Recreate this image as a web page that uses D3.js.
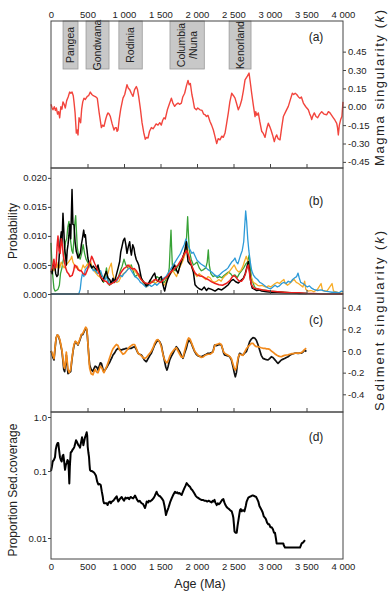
<!DOCTYPE html>
<html>
<head>
<meta charset="utf-8">
<script src="https://cdnjs.cloudflare.com/ajax/libs/d3/7.8.5/d3.min.js"></script>
<style>
    body { margin: 0; background: #fff; }
    svg { font-family: "Liberation Sans", Arial, sans-serif; }
    .axis text { font-size: 9.5px; fill: #222; }
    .axis path, .axis line { stroke: #444; }
    .title { font-size: 12px; fill: #222; }
    .panel-label { font-size: 12px; fill: #222; }
    .super-label { font-size: 10.5px; fill: #222; }
</style>
</head>
<body>
<div id="chart"></div>
<script>

/*
 *  Data (ages in Ma)
 */

var ageTicks = [0, 500, 1000, 1500, 2000, 2500, 3000, 3500, 4000];

var superNames = [["Pangea"], ["Gondwana"], ["Rodinia"], ["Columbia", "/Nuna"], ["Kenorland"]];
var superStart = [165, 480, 930, 1630, 2440];
var superEnd = [370, 795, 1250, 2100, 2740];

var magmaTicks = [-0.45, -0.30, -0.15, 0.00, 0.15, 0.30, 0.45];
var probTicks = [0, 0.005, 0.010, 0.015, 0.020];
var sedTicks = [-0.4, -0.2, 0.0, 0.2, 0.4];
var coverTicks = [0.01, 0.1, 1];

// (a) magma singularity
var magmaK = [[0,0.02],[15,-0.01],[27,-0.025],[45,0.0],[60,-0.03],[73,-0.01],[90,-0.06],[105,-0.04],[119,-0.09],[135,0.0],[150,-0.02],[164,0.04],[180,0.02],[196,-0.01],[215,0.05],[235,0.08],[256,0.12],[272,0.11],[288,0.12],[305,0.09],[315,0.04],[330,-0.05],[347,-0.215],[358,-0.19],[370,-0.23],[384,-0.09],[395,-0.11],[406,-0.13],[420,-0.02],[435,0.04],[452,0.07],[470,0.06],[497,0.085],[515,0.09],[538,0.12],[560,0.10],[580,0.09],[599,0.085],[615,0.08],[634,0.07],[660,-0.05],[690,-0.17],[706,-0.15],[726,-0.16],[750,-0.10],[765,-0.07],[781,-0.05],[797,-0.06],[813,-0.08],[838,-0.14],[863,-0.19],[880,-0.17],[895,-0.17],[905,-0.2],[918,-0.19],[935,-0.10],[955,-0.02],[986,0.07],[1010,0.10],[1041,0.18],[1060,0.15],[1078,0.14],[1100,0.11],[1123,0.085],[1145,0.14],[1169,0.165],[1185,0.14],[1201,0.085],[1225,-0.02],[1247,-0.13],[1270,-0.21],[1292,-0.265],[1310,-0.25],[1329,-0.255],[1350,-0.20],[1375,-0.17],[1398,-0.18],[1420,-0.16],[1440,-0.14],[1466,-0.15],[1490,-0.13],[1511,-0.15],[1530,-0.11],[1548,-0.09],[1565,-0.10],[1594,-0.025],[1620,0.02],[1649,0.07],[1670,0.03],[1694,0.003],[1715,0.02],[1740,0.03],[1760,0.02],[1786,0.03],[1805,0.08],[1831,0.11],[1855,0.17],[1877,0.215],[1892,0.18],[1909,0.19],[1930,0.10],[1946,0.055],[1965,-0.01],[1991,-0.025],[2010,-0.01],[2041,-0.025],[2070,-0.03],[2090,-0.06],[2110,-0.065],[2130,-0.08],[2150,-0.07],[2178,-0.12],[2200,-0.15],[2224,-0.19],[2245,-0.24],[2270,-0.30],[2290,-0.26],[2315,-0.27],[2340,-0.24],[2360,-0.25],[2384,-0.215],[2405,-0.14],[2429,-0.05],[2450,0.04],[2475,0.11],[2500,0.09],[2521,0.07],[2545,0.02],[2566,-0.025],[2590,0.01],[2612,0.055],[2635,0.13],[2658,0.22],[2690,0.25],[2713,0.275],[2730,0.2],[2749,0.11],[2770,0.02],[2795,-0.08],[2805,-0.04],[2820,-0.07],[2840,-0.05],[2860,-0.12],[2886,-0.20],[2910,-0.22],[2932,-0.25],[2955,-0.18],[2977,-0.135],[2995,-0.16],[3014,-0.19],[3035,-0.23],[3059,-0.285],[3075,-0.25],[3092,-0.23],[3110,-0.26],[3137,-0.27],[3160,-0.17],[3183,-0.08],[3215,-0.04],[3251,0.003],[3280,0.06],[3306,0.11],[3325,0.10],[3345,0.11],[3366,0.10],[3390,0.08],[3411,0.07],[3430,0.08],[3457,0.03],[3490,0.0],[3525,-0.025],[3545,-0.06],[3560,-0.08],[3571,-0.105],[3590,-0.07],[3607,-0.05],[3630,-0.08],[3653,-0.09],[3680,-0.06],[3708,-0.04],[3740,-0.06],[3777,-0.065],[3800,-0.04],[3822,-0.05],[3845,-0.07],[3868,-0.09],[3890,-0.11],[3914,-0.135],[3925,-0.17],[3936,-0.23],[3950,-0.15],[3968,-0.105],[3985,-0.08],[4000,0.04]];

// (b) probability series
var probGreen = [[0,0.0088],[10,0.006],[25,0.003],[40,0.001],[55,0.0005],[75,0.0006],[96,0.0008],[115,0.0015],[130,0.0035],[150,0.0045],[170,0.006],[185,0.0075],[200,0.009],[215,0.0095],[230,0.0115],[246,0.0125],[258,0.0105],[270,0.009],[285,0.0075],[300,0.007],[315,0.0095],[325,0.012],[338,0.0135],[350,0.0105],[360,0.008],[380,0.0065],[400,0.006],[420,0.007],[440,0.0085],[460,0.007],[480,0.006],[500,0.0055],[520,0.005],[540,0.0048],[560,0.0045],[580,0.0042],[600,0.004],[620,0.0038],[640,0.0048],[660,0.0042],[680,0.0035],[700,0.0025],[720,0.002],[740,0.003],[760,0.0045],[780,0.0025],[800,0.0015],[825,0.0018],[850,0.002],[875,0.0022],[900,0.0025],[925,0.003],[950,0.004],[975,0.0048],[1000,0.006],[1025,0.005],[1050,0.0045],[1075,0.0048],[1100,0.005],[1125,0.004],[1150,0.003],[1175,0.0032],[1200,0.0035],[1225,0.003],[1250,0.0025],[1275,0.002],[1300,0.0015],[1325,0.0018],[1350,0.002],[1375,0.0022],[1400,0.002],[1425,0.0025],[1450,0.003],[1475,0.0028],[1500,0.0025],[1525,0.0022],[1550,0.002],[1575,0.0025],[1600,0.003],[1620,0.0045],[1632,0.008],[1644,0.011],[1652,0.008],[1662,0.005],[1680,0.0042],[1700,0.004],[1725,0.0045],[1750,0.005],[1775,0.0055],[1800,0.006],[1825,0.007],[1850,0.008],[1862,0.011],[1872,0.0133],[1882,0.0105],[1895,0.0075],[1920,0.006],[1950,0.005],[1975,0.0052],[2000,0.0055],[2030,0.0045],[2060,0.004],[2090,0.0042],[2120,0.0045],[2140,0.0055],[2155,0.0076],[2168,0.005],[2190,0.0035],[2220,0.003],[2250,0.0032],[2280,0.0028],[2310,0.003],[2340,0.0028],[2370,0.0032],[2400,0.0035],[2430,0.0038],[2460,0.0035],[2490,0.003],[2520,0.0033],[2550,0.0028],[2580,0.0035],[2610,0.004],[2640,0.0045],[2670,0.0052],[2690,0.0055],[2715,0.0067],[2730,0.0045],[2750,0.0025],[2780,0.0015],[2800,0.001],[2850,0.0008],[2900,0.0007],[2950,0.0006],[3000,0.0005],[3100,0.0004],[3200,0.0003],[3300,0.0002],[3400,0.0001],[3500,0.0001]];

var probOrange = [[0,0.0035],[20,0.0045],[40,0.004],[60,0.005],[80,0.0045],[100,0.0055],[120,0.0045],[140,0.0055],[160,0.005],[180,0.0045],[200,0.0048],[220,0.0052],[240,0.0055],[256,0.0058],[270,0.006],[285,0.0065],[300,0.0055],[320,0.005],[340,0.0045],[360,0.0048],[380,0.0042],[400,0.004],[420,0.0042],[440,0.005],[460,0.0045],[480,0.0048],[500,0.0052],[520,0.0045],[543,0.0056],[560,0.0048],[580,0.0042],[600,0.0038],[620,0.0035],[640,0.0032],[660,0.003],[680,0.0028],[700,0.0025],[720,0.0022],[740,0.0025],[760,0.003],[780,0.0035],[800,0.0045],[826,0.0053],[845,0.0035],[870,0.0025],[900,0.002],[930,0.0022],[960,0.003],[990,0.0035],[1020,0.0038],[1050,0.0042],[1078,0.005],[1100,0.0045],[1130,0.0042],[1160,0.0038],[1190,0.0032],[1220,0.0027],[1250,0.0022],[1280,0.0015],[1310,0.0012],[1340,0.0015],[1370,0.002],[1400,0.0022],[1430,0.0018],[1460,0.0022],[1490,0.0025],[1520,0.002],[1550,0.0015],[1580,0.0022],[1610,0.003],[1640,0.0035],[1670,0.004],[1694,0.0035],[1720,0.003],[1750,0.0042],[1780,0.005],[1810,0.0058],[1840,0.007],[1865,0.0082],[1885,0.0065],[1910,0.0052],[1940,0.0042],[1970,0.0035],[2000,0.003],[2030,0.0035],[2060,0.0032],[2090,0.0028],[2120,0.0025],[2150,0.003],[2180,0.0028],[2210,0.0022],[2240,0.002],[2270,0.0022],[2300,0.0025],[2330,0.0022],[2360,0.0028],[2390,0.0032],[2420,0.0035],[2450,0.004],[2480,0.0045],[2510,0.005],[2540,0.0042],[2570,0.0038],[2600,0.004],[2630,0.0048],[2650,0.0056],[2675,0.0065],[2700,0.0055],[2720,0.004],[2745,0.0028],[2770,0.002],[2800,0.0018],[2830,0.0015],[2860,0.0014],[2890,0.0015],[2920,0.0013],[2950,0.0012],[2980,0.0014],[3010,0.0012],[3040,0.0015],[3070,0.0018],[3100,0.002],[3130,0.0018],[3160,0.0022],[3190,0.0025],[3210,0.0018],[3240,0.0015],[3270,0.0018],[3300,0.0022],[3330,0.0025],[3360,0.002],[3390,0.0018],[3420,0.0015],[3450,0.0012],[3475,0.0022],[3490,0.0008],[3520,0.0005],[3560,0.0006],[3600,0.0004],[3650,0.0008],[3700,0.0018],[3720,0.0006],[3780,0.0005],[3850,0.0018],[3870,0.0005],[3950,0.0002],[4000,0.0001]];

var probBlue = [[0,0],[100,0],[200,0],[300,0],[380,0],[400,0.0008],[415,0.0025],[430,0.0035],[450,0.003],[470,0.0042],[490,0.0045],[510,0.0048],[534,0.005],[560,0.0045],[580,0.004],[600,0.0042],[620,0.0038],[640,0.0035],[660,0.0038],[680,0.004],[700,0.0032],[720,0.0028],[740,0.0025],[760,0.003],[780,0.0022],[800,0.0018],[825,0.002],[850,0.0022],[875,0.0025],[900,0.0022],[925,0.0028],[950,0.0032],[975,0.003],[1000,0.0035],[1025,0.0038],[1050,0.0042],[1075,0.0045],[1100,0.004],[1125,0.0035],[1150,0.003],[1175,0.0028],[1200,0.0025],[1225,0.002],[1250,0.0018],[1275,0.0015],[1300,0.0012],[1325,0.0014],[1350,0.0016],[1375,0.0013],[1400,0.0015],[1425,0.0018],[1450,0.0015],[1475,0.0018],[1500,0.0022],[1525,0.0025],[1550,0.0028],[1575,0.003],[1600,0.0035],[1625,0.004],[1650,0.0045],[1675,0.005],[1700,0.0055],[1725,0.006],[1750,0.0065],[1775,0.007],[1800,0.0078],[1825,0.0085],[1849,0.0095],[1870,0.0085],[1890,0.008],[1910,0.0075],[1930,0.007],[1950,0.0072],[1975,0.0065],[2000,0.0058],[2025,0.0055],[2050,0.0052],[2075,0.005],[2100,0.0048],[2125,0.0045],[2150,0.0042],[2175,0.004],[2200,0.0038],[2225,0.0035],[2250,0.0032],[2275,0.003],[2300,0.0032],[2325,0.0035],[2350,0.0038],[2375,0.004],[2400,0.0042],[2425,0.0045],[2450,0.005],[2475,0.0055],[2500,0.0058],[2520,0.0062],[2540,0.0055],[2560,0.0052],[2580,0.006],[2600,0.0068],[2620,0.0075],[2640,0.009],[2655,0.012],[2667,0.0143],[2680,0.0125],[2695,0.0095],[2710,0.0075],[2730,0.0055],[2750,0.004],[2775,0.0032],[2800,0.0028],[2830,0.0025],[2860,0.002],[2890,0.0018],[2920,0.0015],[2950,0.0012],[2980,0.001],[3010,0.0009],[3040,0.0012],[3070,0.0015],[3100,0.0012],[3130,0.0014],[3160,0.0018],[3190,0.002],[3220,0.0018],[3250,0.0022],[3280,0.002],[3310,0.0025],[3340,0.0028],[3365,0.003],[3384,0.0036],[3400,0.0028],[3420,0.002],[3450,0.0018],[3480,0.0015],[3510,0.0012],[3540,0.0014],[3570,0.001],[3600,0.0008],[3650,0.0006],[3700,0.0007],[3750,0.0005],[3800,0.0004],[3850,0.0003],[3900,0.0003],[3950,0.0002],[3975,0.0005],[4000,0.0004]];

var probBlack = [[0,0.004],[15,0.0035],[30,0.005],[50,0.005],[65,0.0035],[80,0.003],[96,0.0033],[110,0.006],[125,0.009],[141,0.0107],[150,0.0085],[164,0.0139],[175,0.011],[187,0.0079],[200,0.0065],[210,0.005],[222,0.0075],[233,0.0085],[245,0.01],[256,0.012],[270,0.0095],[280,0.014],[288,0.018],[300,0.012],[315,0.0119],[330,0.009],[347,0.0073],[360,0.0068],[370,0.0062],[393,0.0067],[405,0.0072],[416,0.0085],[430,0.0095],[448,0.011],[460,0.0098],[471,0.0102],[483,0.0085],[493,0.0076],[505,0.0062],[516,0.0056],[530,0.0052],[543,0.005],[560,0.0045],[580,0.0048],[599,0.0045],[620,0.0042],[644,0.005],[665,0.0035],[690,0.0027],[710,0.0022],[735,0.0032],[758,0.0039],[780,0.0028],[804,0.0025],[825,0.0018],[849,0.0027],[870,0.002],[895,0.0033],[920,0.0045],[941,0.0056],[955,0.0072],[973,0.0082],[990,0.0092],[1009,0.0096],[1025,0.0085],[1041,0.007],[1060,0.0082],[1078,0.009],[1090,0.0075],[1101,0.0067],[1120,0.0085],[1137,0.0079],[1150,0.0068],[1169,0.0059],[1185,0.0055],[1201,0.005],[1220,0.0038],[1238,0.0027],[1260,0.0022],[1283,0.0019],[1305,0.0014],[1329,0.0016],[1350,0.0022],[1375,0.0027],[1398,0.0032],[1420,0.0036],[1440,0.0025],[1466,0.0022],[1490,0.0028],[1511,0.003],[1535,0.0015],[1557,0.0005],[1580,0.0018],[1603,0.0027],[1625,0.0033],[1649,0.0039],[1670,0.0044],[1694,0.005],[1715,0.0042],[1740,0.0036],[1765,0.0048],[1786,0.0056],[1810,0.0065],[1831,0.0073],[1854,0.009],[1866,0.007],[1877,0.0056],[1900,0.0052],[1922,0.005],[1950,0.0038],[1973,0.0016],[2000,0.0012],[2030,0.0009],[2064,0.0007],[2100,0.0012],[2130,0.0006],[2155,0.001],[2200,0.0008],[2247,0.0005],[2290,0.0009],[2338,0.0007],[2380,0.0011],[2429,0.0016],[2460,0.0022],[2497,0.0025],[2530,0.0021],[2566,0.0019],[2600,0.0023],[2635,0.0027],[2660,0.0035],[2681,0.0045],[2703,0.0056],[2715,0.0045],[2726,0.0033],[2740,0.0018],[2758,0.001],[2790,0.0008],[2817,0.0006],[2850,0.0007],[2886,0.0005],[2950,0.0004],[3023,0.0003],[3100,0.0003],[3200,0.0002],[3300,0.0002],[3400,0.0001],[3500,0.0001]];

var probRed = [[0,0.004],[20,0.0045],[40,0.006],[55,0.0045],[70,0.005],[85,0.0085],[96,0.01],[110,0.0075],[125,0.007],[141,0.0095],[155,0.0085],[170,0.0065],[185,0.0055],[200,0.0045],[220,0.0038],[240,0.0035],[260,0.003],[290,0.0032],[310,0.004],[325,0.005],[345,0.0048],[370,0.0042],[395,0.004],[416,0.004],[440,0.0035],[470,0.0033],[500,0.0042],[525,0.0052],[543,0.0058],[557,0.0065],[575,0.006],[600,0.0052],[625,0.0045],[650,0.0038],[680,0.003],[710,0.0025],[740,0.0022],[758,0.0022],[780,0.0018],[804,0.0016],[830,0.0018],[860,0.002],[890,0.0023],[920,0.0028],[950,0.0035],[975,0.004],[1000,0.0044],[1025,0.0046],[1055,0.005],[1080,0.0047],[1110,0.0043],[1140,0.0044],[1170,0.004],[1200,0.0033],[1230,0.0026],[1260,0.0022],[1290,0.0019],[1320,0.0018],[1350,0.0018],[1380,0.002],[1410,0.0024],[1440,0.0025],[1470,0.0022],[1500,0.002],[1530,0.0023],[1560,0.0027],[1590,0.003],[1620,0.0035],[1650,0.0039],[1680,0.0042],[1710,0.0046],[1740,0.005],[1770,0.0056],[1800,0.0062],[1830,0.007],[1858,0.0075],[1880,0.0068],[1900,0.006],[1925,0.005],[1950,0.0042],[1975,0.0036],[2000,0.0033],[2040,0.0031],[2080,0.003],[2120,0.0027],[2150,0.0025],[2200,0.0021],[2250,0.0018],[2300,0.0016],[2350,0.0015],[2400,0.0018],[2450,0.0023],[2480,0.0029],[2500,0.0032],[2525,0.003],[2550,0.0026],[2580,0.0022],[2610,0.0022],[2640,0.0027],[2665,0.0035],[2685,0.0045],[2703,0.005],[2715,0.004],[2730,0.0025],[2750,0.0015],[2780,0.001],[2820,0.0009],[2860,0.0008],[2900,0.0007],[2950,0.0006],[3000,0.0005],[3100,0.0004],[3200,0.0003],[3300,0.0002],[3400,0.0002],[3500,0.0001],[3600,0.0001],[3700,0.0],[4000,0.0]];

// (c) sediment singularity
var sedBlack = [[0,0.0],[10,-0.02],[25,-0.06],[41,-0.083],[55,0.02],[70,0.12],[87,0.148],[100,0.14],[119,0.10],[135,0.05],[151,-0.006],[165,-0.1],[175,-0.17],[187,-0.19],[198,-0.12],[210,-0.037],[220,-0.12],[233,-0.21],[250,-0.2],[269,-0.19],[285,-0.09],[301,-0.006],[315,0.05],[333,0.086],[350,0.075],[370,0.055],[390,0.09],[405,0.12],[416,0.148],[435,0.15],[455,0.18],[475,0.21],[488,0.2],[497,0.148],[510,0.03],[520,-0.06],[530,-0.13],[550,-0.17],[575,-0.19],[590,-0.16],[605,-0.14],[621,-0.145],[635,-0.16],[644,-0.176],[660,-0.14],[675,-0.11],[690,-0.114],[705,-0.15],[715,-0.18],[726,-0.19],[745,-0.17],[765,-0.15],[781,-0.13],[800,-0.11],[820,-0.08],[835,-0.06],[849,-0.037],[870,-0.02],[895,0.01],[918,0.025],[940,0.015],[963,0.009],[985,0.015],[1010,0.02],[1032,0.025],[1055,0.02],[1080,0.025],[1101,0.025],[1125,0.035],[1146,0.04],[1165,0.02],[1192,-0.021],[1215,-0.03],[1238,-0.037],[1260,-0.06],[1280,-0.085],[1306,-0.099],[1330,-0.07],[1355,-0.04],[1375,-0.021],[1398,0.02],[1420,0.055],[1445,0.085],[1466,0.1],[1490,0.085],[1511,0.055],[1530,-0.01],[1545,-0.06],[1557,-0.099],[1573,-0.15],[1589,-0.176],[1605,-0.14],[1626,-0.083],[1648,-0.05],[1671,-0.021],[1695,0.01],[1717,0.04],[1740,0.02],[1763,-0.006],[1785,-0.04],[1808,-0.068],[1830,-0.02],[1854,0.025],[1870,0.07],[1886,0.1],[1905,0.09],[1922,0.071],[1945,0.03],[1968,-0.006],[1990,-0.03],[2015,-0.045],[2040,-0.05],[2059,-0.053],[2085,-0.045],[2110,-0.035],[2130,-0.03],[2150,-0.021],[2180,-0.02],[2200,-0.015],[2219,-0.006],[2232,0.03],[2242,0.055],[2265,0.05],[2288,0.055],[2310,0.06],[2333,0.055],[2350,0.02],[2365,-0.02],[2379,-0.037],[2400,-0.04],[2425,-0.045],[2447,-0.053],[2470,-0.08],[2493,-0.145],[2510,-0.2],[2525,-0.238],[2540,-0.2],[2552,-0.13],[2568,-0.06],[2584,-0.021],[2605,-0.03],[2630,-0.037],[2652,-0.02],[2676,-0.006],[2700,0.04],[2721,0.086],[2745,0.11],[2767,0.123],[2790,0.12],[2813,0.1],[2835,0.06],[2858,0.009],[2880,-0.04],[2904,-0.068],[2930,-0.075],[2950,-0.08],[2973,-0.083],[2995,-0.07],[3018,-0.053],[3040,-0.06],[3065,-0.08],[3090,-0.1],[3110,-0.114],[3130,-0.1],[3155,-0.083],[3180,-0.075],[3200,-0.07],[3225,-0.06],[3247,-0.053],[3270,-0.04],[3295,-0.03],[3318,-0.025],[3338,-0.021],[3360,-0.02],[3385,-0.022],[3410,-0.02],[3429,-0.021],[3450,-0.01],[3475,0.009],[3490,0.0],[3497,-0.006]];

var sedOrange = [[0,0.0],[10,-0.01],[25,-0.04],[41,-0.07],[55,0.03],[70,0.12],[87,0.15],[100,0.14],[119,0.11],[135,0.06],[151,0.0],[165,-0.08],[175,-0.14],[187,-0.16],[198,-0.1],[210,-0.01],[220,-0.08],[233,-0.17],[250,-0.2],[269,-0.17],[285,-0.08],[301,0.0],[315,0.06],[333,0.09],[350,0.08],[370,0.06],[390,0.1],[405,0.13],[416,0.155],[435,0.16],[455,0.19],[475,0.22],[488,0.21],[497,0.16],[510,0.03],[520,-0.08],[530,-0.16],[550,-0.21],[575,-0.22],[590,-0.19],[605,-0.17],[621,-0.19],[635,-0.2],[644,-0.2],[660,-0.17],[675,-0.14],[690,-0.15],[705,-0.17],[715,-0.19],[726,-0.2],[745,-0.17],[765,-0.14],[781,-0.11],[800,-0.07],[820,-0.03],[835,0.0],[849,0.02],[870,0.04],[895,0.06],[918,0.05],[940,0.01],[963,-0.01],[985,-0.03],[1010,-0.02],[1032,0.0],[1055,0.02],[1080,0.04],[1101,0.05],[1125,0.06],[1146,0.06],[1165,0.03],[1192,-0.02],[1215,-0.03],[1238,-0.045],[1260,-0.06],[1280,-0.07],[1306,-0.06],[1330,-0.04],[1355,-0.02],[1375,0.0],[1398,0.03],[1420,0.07],[1445,0.1],[1466,0.105],[1490,0.08],[1511,0.04],[1530,-0.02],[1545,-0.06],[1557,-0.08],[1573,-0.1],[1589,-0.11],[1605,-0.09],[1626,-0.05],[1648,-0.02],[1671,0.0],[1695,0.02],[1717,0.03],[1740,0.0],[1763,-0.03],[1785,-0.055],[1808,-0.06],[1830,0.0],[1854,0.06],[1870,0.1],[1886,0.12],[1905,0.11],[1922,0.08],[1945,0.04],[1968,0.0],[1990,-0.02],[2015,-0.04],[2040,-0.05],[2059,-0.06],[2085,-0.055],[2110,-0.04],[2130,-0.035],[2150,-0.03],[2180,-0.03],[2200,-0.02],[2219,-0.01],[2232,0.02],[2242,0.05],[2265,0.06],[2288,0.065],[2310,0.07],[2333,0.06],[2350,0.02],[2365,-0.01],[2379,-0.02],[2400,-0.03],[2425,-0.04],[2447,-0.05],[2470,-0.07],[2493,-0.12],[2510,-0.16],[2525,-0.176],[2540,-0.15],[2552,-0.1],[2568,-0.05],[2584,-0.03],[2605,-0.035],[2630,-0.04],[2652,-0.01],[2676,0.02],[2700,0.04],[2721,0.055],[2745,0.07],[2767,0.071],[2790,0.05],[2813,0.04],[2835,0.04],[2858,0.035],[2880,0.03],[2904,0.025],[2930,0.025],[2950,0.02],[2973,0.02],[2995,0.015],[3018,0.0],[3040,-0.01],[3065,-0.025],[3090,-0.037],[3110,-0.045],[3130,-0.05],[3155,-0.053],[3180,-0.045],[3200,-0.04],[3225,-0.037],[3247,-0.035],[3270,-0.03],[3295,-0.025],[3318,-0.025],[3338,-0.021],[3360,-0.02],[3385,-0.02],[3410,-0.02],[3429,-0.015],[3450,-0.005],[3475,0.015],[3497,0.025]];

// (d) proportion of sediment coverage
var sedCoverage = [[0,0.1],[12,0.12],[23,0.15],[40,0.16],[55,0.18],[65,0.25],[78,0.3],[90,0.33],[100,0.33],[110,0.25],[123,0.18],[135,0.16],[146,0.15],[158,0.19],[169,0.2],[180,0.15],[192,0.105],[204,0.13],[215,0.14],[226,0.16],[237,0.15],[244,0.1],[251,0.065],[258,0.12],[270,0.22],[284,0.23],[297,0.25],[308,0.26],[320,0.28],[331,0.32],[343,0.37],[358,0.34],[375,0.3],[387,0.29],[397,0.27],[410,0.33],[425,0.42],[435,0.36],[443,0.3],[455,0.36],[466,0.42],[478,0.46],[489,0.52],[496,0.45],[503,0.28],[512,0.22],[521,0.18],[528,0.13],[534,0.105],[545,0.1],[557,0.1],[572,0.098],[589,0.095],[603,0.09],[616,0.085],[632,0.07],[648,0.063],[665,0.064],[681,0.062],[695,0.05],[708,0.042],[716,0.036],[726,0.033],[745,0.033],[763,0.033],[775,0.031],[790,0.034],[808,0.035],[820,0.033],[835,0.035],[854,0.036],[870,0.038],[885,0.04],[900,0.042],[910,0.038],[922,0.035],[935,0.037],[950,0.039],[968,0.041],[985,0.038],[1000,0.036],[1020,0.04],[1037,0.039],[1055,0.04],[1070,0.038],[1090,0.041],[1105,0.04],[1125,0.039],[1140,0.041],[1151,0.043],[1165,0.04],[1180,0.037],[1197,0.035],[1215,0.036],[1230,0.034],[1242,0.033],[1262,0.032],[1275,0.03],[1288,0.028],[1300,0.031],[1311,0.035],[1330,0.034],[1340,0.036],[1356,0.035],[1370,0.036],[1385,0.037],[1402,0.039],[1420,0.042],[1435,0.046],[1447,0.049],[1460,0.045],[1475,0.043],[1493,0.042],[1510,0.04],[1525,0.038],[1539,0.036],[1555,0.03],[1567,0.025],[1575,0.022],[1590,0.025],[1607,0.028],[1620,0.031],[1635,0.035],[1653,0.039],[1670,0.043],[1685,0.046],[1699,0.049],[1715,0.047],[1730,0.048],[1744,0.046],[1760,0.047],[1775,0.045],[1790,0.044],[1810,0.05],[1826,0.055],[1842,0.06],[1858,0.066],[1872,0.063],[1888,0.06],[1904,0.058],[1920,0.054],[1935,0.052],[1950,0.049],[1965,0.046],[1980,0.043],[1996,0.041],[2010,0.04],[2025,0.039],[2041,0.038],[2060,0.037],[2080,0.037],[2100,0.036],[2120,0.036],[2140,0.035],[2160,0.036],[2180,0.035],[2200,0.034],[2215,0.036],[2224,0.035],[2240,0.037],[2250,0.034],[2270,0.031],[2285,0.033],[2300,0.032],[2315,0.033],[2330,0.035],[2345,0.037],[2361,0.038],[2375,0.034],[2390,0.031],[2406,0.029],[2420,0.028],[2440,0.027],[2455,0.026],[2475,0.025],[2490,0.022],[2498,0.02],[2506,0.016],[2514,0.0125],[2530,0.012],[2544,0.012],[2555,0.015],[2566,0.018],[2578,0.022],[2589,0.026],[2600,0.027],[2612,0.025],[2625,0.026],[2635,0.026],[2650,0.025],[2668,0.03],[2680,0.035],[2703,0.04],[2720,0.041],[2740,0.042],[2755,0.043],[2772,0.043],[2790,0.042],[2810,0.041],[2825,0.038],[2840,0.035],[2855,0.03],[2870,0.028],[2886,0.026],[2900,0.024],[2915,0.021],[2932,0.02],[2945,0.019],[2960,0.017],[2977,0.016],[2990,0.016],[3005,0.0145],[3023,0.0145],[3040,0.0135],[3055,0.012],[3068,0.012],[3080,0.01],[3091,0.0083],[3130,0.0083],[3160,0.0083],[3183,0.0083],[3190,0.0077],[3205,0.0072],[3250,0.0072],[3300,0.0072],[3350,0.0072],[3411,0.0072],[3434,0.0083],[3455,0.0086],[3479,0.0093]];


/*
 *  Layout
 */

var left = 51, right = 343;
var panelA = { top: 21, bottom: 168 };
var panelB = { top: 168, bottom: 294 };
var panelC = { top: 294, bottom: 412 };
var panelD = { top: 412, bottom: 559 };

var svg = d3.select("#chart").append("svg")
    .attr("width", 392)
    .attr("height", 593);

var x = d3.scaleLinear().domain([0, 4000]).range([left, right]);

var yA = d3.scaleLinear().domain([-0.5, 0.7]).range([panelA.bottom, panelA.top]);
var yB = d3.scaleLinear().domain([0, 0.0217]).range([panelB.bottom, panelB.top]);
var yC = d3.scaleLinear().domain([-0.5635, 0.5265]).range([panelC.bottom, panelC.top]);
// the printed log axis is not evenly spaced, so keep its three decades where they sit
var yD = d3.scaleLog().domain([0.00486, 0.01, 0.1, 1]).range([panelD.bottom, 538, 471, 417]);

var ageFormat = d3.formatLocale({ decimal: ".", thousands: " ", grouping: [3], currency: ["", ""] }).format(",");

function drawLine(data, yScale, color, w) {
    var line = d3.line()
        .x(function(d) { return x(d[0]); })
        .y(function(d) { return yScale(d[1]); });

    svg.append("path")
        .datum(data)
        .attr("d", line)
        .attr("fill", "none")
        .attr("stroke", color)
        .attr("stroke-width", w)
        .attr("stroke-linejoin", "round");
}

function panelLabel(text, y) {
    svg.append("text")
        .attr("class", "panel-label")
        .attr("x", 316)
        .attr("y", y)
        .attr("text-anchor", "middle")
        .text(text);
}

// rotated axis title; the right-hand ones are printed stretched, so give them a fixed length
function verticalTitle(xPos, yPos, parts, len) {
    var t = svg.append("text")
        .attr("class", "title")
        .attr("transform", "translate(" + xPos + "," + yPos + ") rotate(-90)")
        .attr("text-anchor", "middle")
        .attr("dominant-baseline", "central");
    if (len) {
        t.style("font-size", "13px")
            .attr("textLength", len)
            .attr("lengthAdjust", "spacing");
    }
    parts.forEach(function(p) {
        t.append("tspan").attr("font-style", p[1] ? "italic" : null).text(p[0]);
    });
}


/*
 *  (a) supercontinent boxes and magma singularity
 */

superNames.forEach(function(lines, i) {
    var x0 = x(superStart[i]), x1 = x(superEnd[i]);
    svg.append("rect")
        .attr("x", x0)
        .attr("y", panelA.top)
        .attr("width", x1 - x0)
        .attr("height", 48)
        .attr("fill", "#c8c8c8")
        .attr("stroke", "#9a9a9a")
        .attr("stroke-width", 0.8);

    var t = svg.append("text")
        .attr("class", "super-label")
        .attr("transform", "translate(" + ((x0 + x1) / 2) + "," + (panelA.top + 24) + ") rotate(-90)")
        .attr("text-anchor", "middle");
    lines.forEach(function(s, j) {
        t.append("tspan")
            .attr("x", 0)
            .attr("dy", j === 0 ? (lines.length === 1 ? "0.35em" : "-0.2em") : "1.1em")
            .text(s);
    });
});

drawLine(magmaK, yA, "#f2453d", 1.4);

svg.append("g").attr("class", "axis")
    .attr("transform", "translate(" + right + ",0)")
    .call(d3.axisRight(yA).tickValues(magmaTicks).tickSize(3).tickPadding(2)
        .tickFormat(function(d) { return d.toFixed(2); }))
    .call(function(g) { g.select(".domain").remove(); });

svg.append("g").attr("class", "axis")
    .attr("transform", "translate(0," + panelA.top + ")")
    .call(d3.axisTop(x).tickValues(ageTicks).tickSize(0).tickPadding(3).tickFormat(ageFormat))
    .call(function(g) { g.select(".domain").remove(); });

verticalTitle(379, 88, [["Magma singularity ("], ["k", true], [")"]], 156);
panelLabel("(a)", 41);


/*
 *  (b) probability
 */

drawLine(probGreen, yB, "#37a236", 1.3);
drawLine(probOrange, yB, "#f8ac26", 1.3);
drawLine(probBlue, yB, "#2d9ad8", 1.3);
drawLine(probBlack, yB, "#000000", 1.5);
drawLine(probRed, yB, "#ec2020", 1.5);

svg.append("g").attr("class", "axis")
    .attr("transform", "translate(" + left + ",0)")
    .call(d3.axisLeft(yB).tickValues(probTicks).tickSize(3).tickPadding(1)
        .tickFormat(function(d) { return d.toFixed(3); }))
    .call(function(g) { g.select(".domain").remove(); });

verticalTitle(13, 231, [["Probability"]]);
panelLabel("(b)", 205);


/*
 *  (c) sediment singularity
 */

drawLine(sedBlack, yC, "#111111", 1.7);
drawLine(sedOrange, yC, "#f28a1c", 1.7);

svg.append("g").attr("class", "axis")
    .attr("transform", "translate(" + right + ",0)")
    .call(d3.axisRight(yC).tickValues(sedTicks).tickSize(3).tickPadding(2)
        .tickFormat(function(d) { return d.toFixed(1); }))
    .call(function(g) { g.select(".domain").remove(); });

verticalTitle(379, 321, [["Sediment singularity ("], ["k", true], [")"]], 180);
panelLabel("(c)", 324);


/*
 *  (d) proportion of sediment coverage
 */

drawLine(sedCoverage, yD, "#000000", 2);

svg.append("g").attr("class", "axis")
    .attr("transform", "translate(" + left + ",0)")
    .call(d3.axisLeft(yD).tickValues(coverTicks).tickSize(3).tickPadding(1)
        .tickFormat(function(d) { return d === 1 ? "1.0" : String(d); }))
    .call(function(g) { g.select(".domain").remove(); });

svg.append("g").attr("class", "axis")
    .attr("transform", "translate(0," + panelD.bottom + ")")
    .call(d3.axisBottom(x).tickValues(ageTicks).tickSize(0).tickPadding(4).tickFormat(ageFormat))
    .call(function(g) { g.select(".domain").remove(); });

verticalTitle(13, 490, [["Proportion Sed.coverage"]]);
panelLabel("(d)", 441);

svg.append("text")
    .attr("class", "title")
    .attr("x", 200)
    .attr("y", 588)
    .attr("text-anchor", "middle")
    .style("font-size", "12.5px")
    .text("Age (Ma)");


/*
 *  Frames and inward ticks
 */

[panelA, panelB, panelC, panelD].forEach(function(p, i) {
    svg.append("rect")
        .attr("x", left)
        .attr("y", p.top)
        .attr("width", right - left)
        .attr("height", p.bottom - p.top)
        .attr("fill", "none")
        .attr("stroke", "#444")
        .attr("stroke-width", 1);

    if (i < 3) {
        svg.append("g").attr("class", "axis")
            .attr("transform", "translate(0," + p.bottom + ")")
            .call(d3.axisTop(x).tickValues(ageTicks.slice(1, -1)).tickSize(4).tickFormat(""))
            .call(function(g) { g.select(".domain").remove(); });
    }
});

</script>
</body>
</html>
